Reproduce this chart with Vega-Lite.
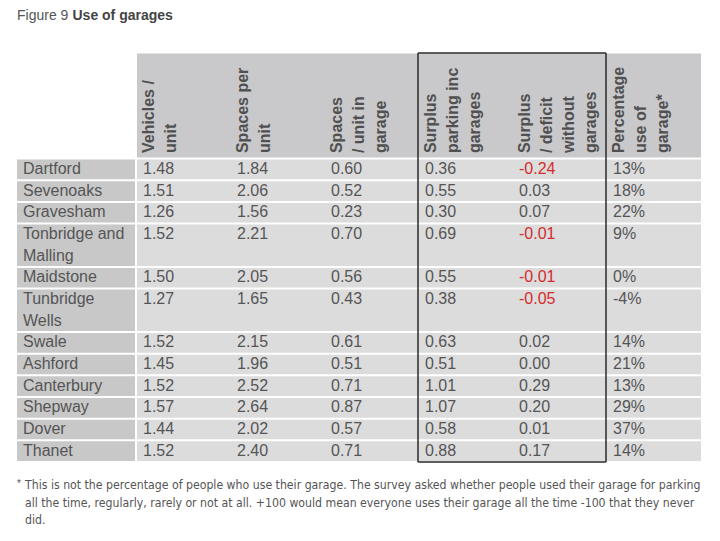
{
  "$schema": "https://vega.github.io/schema/vega-lite/v6.json",
  "padding": {"left": 17, "top": 0, "right": 0, "bottom": 0},
  "background": "white",
  "config": {"view": {"stroke": null}, "font": "Liberation Sans"},
  "datasets": {
    "table": [
      {"District": "Dartford", "Vehicles": 1.48, "Spaces": 1.84, "Garage": 0.60, "SurplusInc": 0.36, "SurplusWithout": -0.24, "Pct": 0.13},
      {"District": "Sevenoaks", "Vehicles": 1.51, "Spaces": 2.06, "Garage": 0.52, "SurplusInc": 0.55, "SurplusWithout": 0.03, "Pct": 0.18},
      {"District": "Gravesham", "Vehicles": 1.26, "Spaces": 1.56, "Garage": 0.23, "SurplusInc": 0.30, "SurplusWithout": 0.07, "Pct": 0.22},
      {"District": "Tonbridge and\nMalling", "Vehicles": 1.52, "Spaces": 2.21, "Garage": 0.70, "SurplusInc": 0.69, "SurplusWithout": -0.01, "Pct": 0.09},
      {"District": "Maidstone", "Vehicles": 1.50, "Spaces": 2.05, "Garage": 0.56, "SurplusInc": 0.55, "SurplusWithout": -0.01, "Pct": 0.00},
      {"District": "Tunbridge\nWells", "Vehicles": 1.27, "Spaces": 1.65, "Garage": 0.43, "SurplusInc": 0.38, "SurplusWithout": -0.05, "Pct": -0.04},
      {"District": "Swale", "Vehicles": 1.52, "Spaces": 2.15, "Garage": 0.61, "SurplusInc": 0.63, "SurplusWithout": 0.02, "Pct": 0.14},
      {"District": "Ashford", "Vehicles": 1.45, "Spaces": 1.96, "Garage": 0.51, "SurplusInc": 0.51, "SurplusWithout": 0.00, "Pct": 0.21},
      {"District": "Canterbury", "Vehicles": 1.52, "Spaces": 2.52, "Garage": 0.71, "SurplusInc": 1.01, "SurplusWithout": 0.29, "Pct": 0.13},
      {"District": "Shepway", "Vehicles": 1.57, "Spaces": 2.64, "Garage": 0.87, "SurplusInc": 1.07, "SurplusWithout": 0.20, "Pct": 0.29},
      {"District": "Dover", "Vehicles": 1.44, "Spaces": 2.02, "Garage": 0.57, "SurplusInc": 0.58, "SurplusWithout": 0.01, "Pct": 0.37},
      {"District": "Thanet", "Vehicles": 1.52, "Spaces": 2.40, "Garage": 0.71, "SurplusInc": 0.88, "SurplusWithout": 0.17, "Pct": 0.14}
    ],
    "headers": [
      {"col": "Vehicles", "label": "Vehicles /\nunit"},
      {"col": "Spaces", "label": "Spaces per\nunit"},
      {"col": "Garage", "label": "Spaces\n/ unit in\ngarage"},
      {"col": "SurplusInc", "label": "Surplus\nparking inc\ngarages"},
      {"col": "SurplusWithout", "label": "Surplus\n/ deficit\nwithout\ngarages"},
      {"col": "Pct", "label": "Percentage\nuse of\ngarage*"}
    ]
  },
  "spacing": 0,
  "vconcat": [
    {
      "width": 683,
      "height": 52,
      "data": {"values": [{}]},
      "layer": [
        {
          "mark": {"type": "text", "text": "Figure 9", "align": "left", "baseline": "middle", "fontSize": 14, "color": "#555555", "dy": -10},
          "encoding": {"x": {"datum": 0, "type": "quantitative", "scale": {"domain": [0, 1]}, "axis": null}}
        },
        {
          "mark": {"type": "text", "text": "Use of garages", "align": "left", "baseline": "middle", "fontSize": 14, "fontWeight": "bold", "color": "#444444", "dx": 55.5, "dy": -10},
          "encoding": {"x": {"datum": 0, "type": "quantitative"}}
        }
      ]
    },
    {
      "spacing": 0,
      "bounds": "flush",
      "hconcat": [
        {
          "width": 119,
          "height": 409,
          "data": {"name": "table"},
          "transform": [
            {"calculate": "length(split(datum.District, '\\n'))", "as": "lines"},
            {"window": [{"op": "sum", "field": "lines", "as": "end"}], "frame": [null, 0]},
            {"calculate": "datum.end - datum.lines", "as": "start"}
          ],
          "layer": [
            {
              "mark": {"type": "rect", "fill": "#c8c8c8", "x2Offset": -1, "yOffset": 1, "y2Offset": -1},
              "encoding": {
                "x": {"datum": 0, "type": "quantitative", "scale": {"domain": [0, 1]}, "axis": null},
                "x2": {"datum": 1},
                "y": {"field": "start", "type": "quantitative", "scale": {"domain": [-4.87, 14], "reverse": true, "zero": false, "nice": false}, "axis": null},
                "y2": {"field": "end"}
              }
            },
            {
              "mark": {"type": "text", "align": "left", "baseline": "top", "dx": 6, "dy": 2.5, "fontSize": 16, "color": "#555555", "lineBreak": "\n", "lineHeight": 22},
              "encoding": {
                "x": {"datum": 0, "type": "quantitative"},
                "y": {"field": "start", "type": "quantitative"},
                "text": {"field": "District"}
              }
            }
          ]
        },
        {
          "width": 564,
          "height": 409,
          "layer": [
            {
              "data": {"name": "headers"},
              "mark": {"type": "rect", "fill": "#c9c9cb", "xOffset": 1, "x2Offset": -1, "yOffset": 0.5, "y2Offset": -1},
              "encoding": {
                "x": {"field": "col", "type": "nominal", "scale": {"domain": ["Vehicles", "Spaces", "Garage", "SurplusInc", "SurplusWithout", "Pct"], "paddingInner": 0, "paddingOuter": 0}, "axis": null},
                "y": {"datum": -4.87, "type": "quantitative", "scale": {"domain": [-4.87, 14], "reverse": true, "zero": false, "nice": false}, "axis": null},
                "y2": {"datum": 0}
              }
            },
            {
              "data": {"name": "headers"},
              "mark": {"type": "text", "angle": 270, "align": "left", "baseline": "top", "dx": 5.5, "dy": 5, "fontSize": 16, "fontWeight": "bold", "color": "#505050", "lineBreak": "\n", "lineHeight": 22},
              "encoding": {
                "x": {"field": "col", "type": "nominal", "bandPosition": 0},
                "y": {"datum": 0, "type": "quantitative"},
                "text": {"field": "label"}
              }
            },
            {
              "data": {"name": "table"},
              "transform": [
                {"calculate": "length(split(datum.District, '\\n'))", "as": "lines"},
                {"window": [{"op": "sum", "field": "lines", "as": "end"}], "frame": [null, 0]},
                {"calculate": "datum.end - datum.lines", "as": "start"},
                {"fold": ["Vehicles", "Spaces", "Garage", "SurplusInc", "SurplusWithout", "Pct"], "as": ["col", "value"]},
                {"calculate": "replace(datum.col === 'Pct' ? format(datum.value, '.0%') : format(datum.value, '.2f'), '−', '-')", "as": "label"}
              ],
              "layer": [
                {
                  "mark": {"type": "rect", "fill": "#dcdcdd", "xOffset": 1, "x2Offset": -1, "yOffset": 1, "y2Offset": -1},
                  "encoding": {
                    "x": {"field": "col", "type": "nominal"},
                    "y": {"field": "start", "type": "quantitative"},
                    "y2": {"field": "end"}
                  }
                },
                {
                  "mark": {"type": "text", "align": "left", "baseline": "top", "dx": 7, "dy": 2.5, "fontSize": 16},
                  "encoding": {
                    "x": {"field": "col", "type": "nominal", "bandPosition": 0},
                    "y": {"field": "start", "type": "quantitative"},
                    "text": {"field": "label"},
                    "color": {"condition": {"test": "datum.col === 'SurplusWithout' && datum.value < 0", "value": "#d42c2c"}, "value": "#555555"}
                  }
                }
              ]
            },
            {
              "data": {"values": [{}]},
              "layer": [
                {
                  "mark": {"type": "rule", "color": "#2a2a2a", "strokeWidth": 1.5},
                  "encoding": {
                    "x": {"datum": "SurplusInc", "type": "nominal", "bandPosition": 0},
                    "y": {"datum": -4.87, "type": "quantitative"},
                    "y2": {"datum": 14}
                  }
                },
                {
                  "mark": {"type": "rule", "color": "#2a2a2a", "strokeWidth": 1.5},
                  "encoding": {
                    "x": {"datum": "Pct", "type": "nominal", "bandPosition": 0},
                    "y": {"datum": -4.87, "type": "quantitative"},
                    "y2": {"datum": 14}
                  }
                },
                {
                  "mark": {"type": "rule", "color": "#2a2a2a", "strokeWidth": 1.5},
                  "encoding": {
                    "x": {"datum": "SurplusInc", "type": "nominal", "bandPosition": 0},
                    "x2": {"datum": "Pct", "bandPosition": 0},
                    "y": {"datum": -4.87, "type": "quantitative"}
                  }
                },
                {
                  "mark": {"type": "rule", "color": "#2a2a2a", "strokeWidth": 1.5},
                  "encoding": {
                    "x": {"datum": "SurplusInc", "type": "nominal", "bandPosition": 0},
                    "x2": {"datum": "Pct", "bandPosition": 0},
                    "y": {"datum": 14, "type": "quantitative"}
                  }
                }
              ]
            }
          ]
        }
      ]
    },
    {
      "width": 683,
      "height": 78,
      "data": {"values": [{}]},
      "layer": [
        {
          "mark": {"type": "text", "text": "*", "align": "left", "baseline": "top", "fontSize": 10, "color": "#555555", "dy": -23},
          "encoding": {"x": {"datum": 0, "type": "quantitative", "scale": {"domain": [0, 1]}, "axis": null}}
        },
        {
          "mark": {"type": "text", "text": ["This is not the percentage of people who use their garage. The survey asked whether people used their garage for parking", "all the time, regularly, rarely or not at all. +100 would mean everyone uses their garage all the time -100 that they never", "did."], "align": "left", "baseline": "top", "dx": 8, "dy": -23, "fontSize": 12.2, "font": "Liberation Sans Narrow, DejaVu Sans Condensed, Liberation Sans", "lineHeight": 17.5, "color": "#555555"},
          "encoding": {"x": {"datum": 0, "type": "quantitative"}}
        }
      ]
    }
  ]
}
